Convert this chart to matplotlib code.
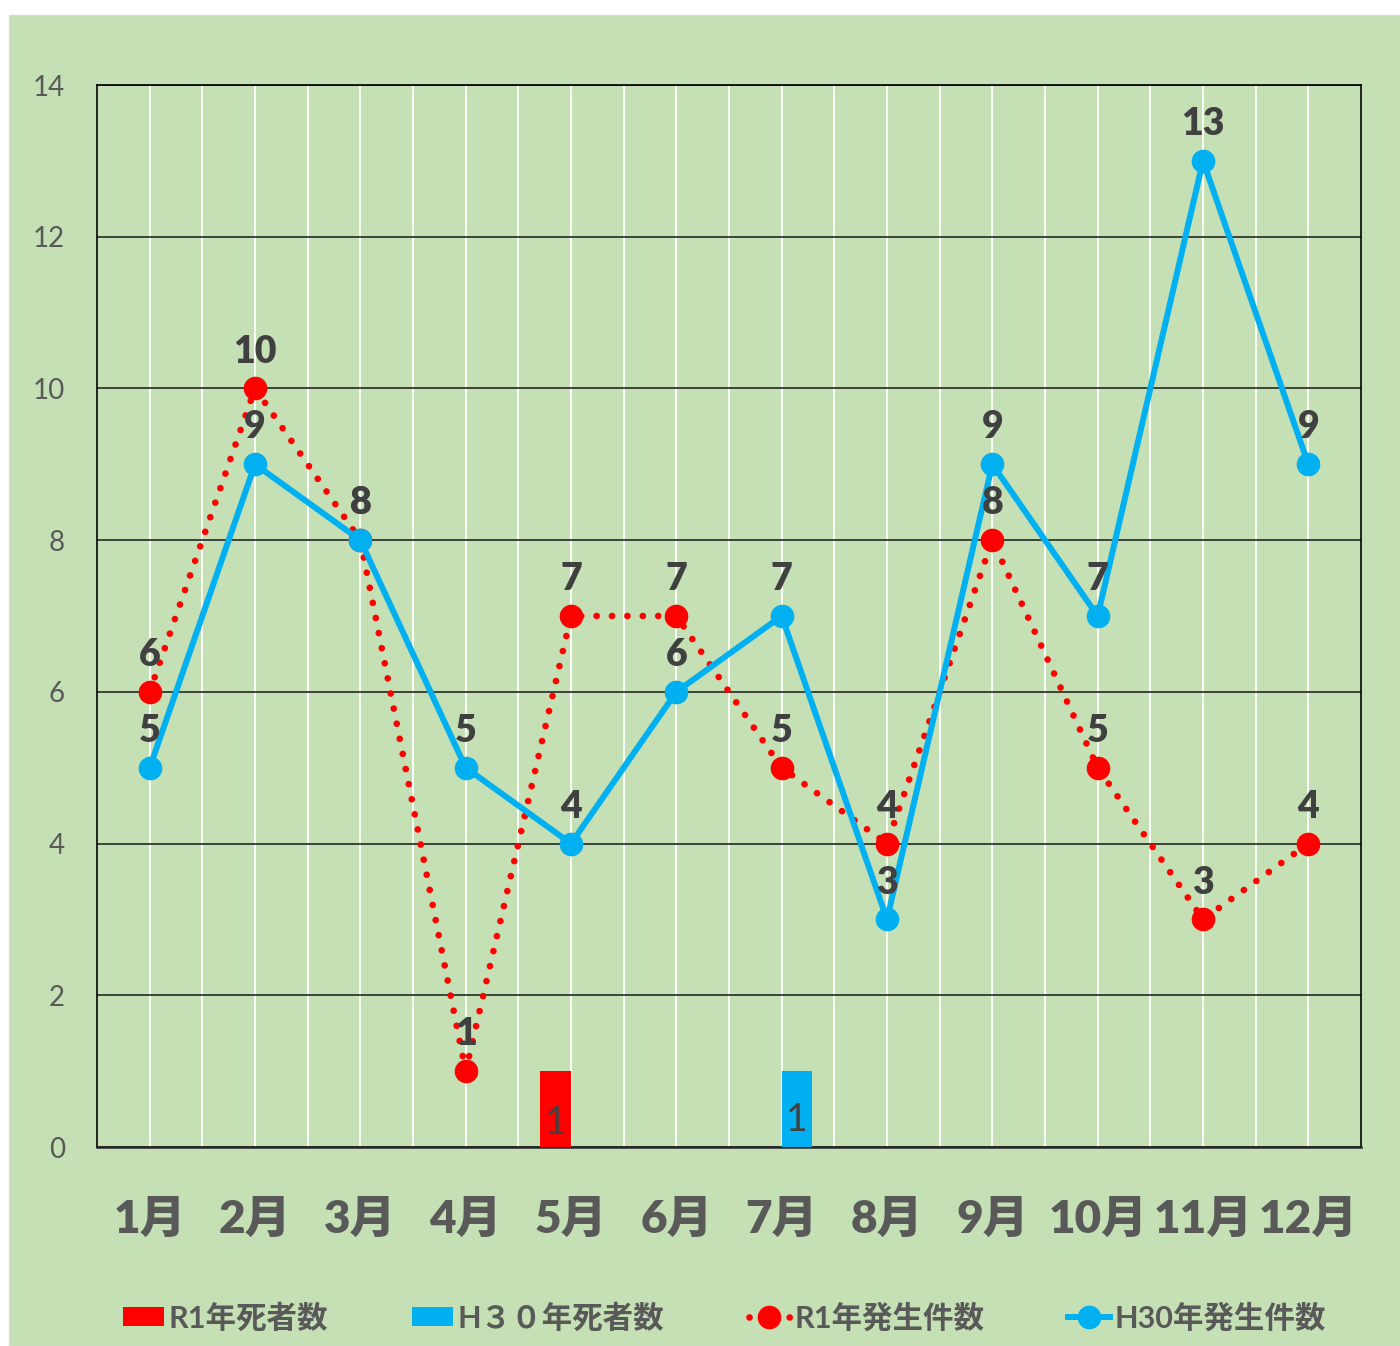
import numpy as np
import matplotlib
matplotlib.use("Agg")
import matplotlib.pyplot as plt
from matplotlib.patches import Rectangle, Patch
from matplotlib.lines import Line2D
from matplotlib.ticker import MultipleLocator

plt.rcParams['font.family'] = ['Lato', 'Noto Sans CJK JP', 'DejaVu Sans']

months = ['1月', '2月', '3月', '4月', '5月', '6月', '7月', '8月', '9月', '10月', '11月', '12月']
r1_cases = [6, 10, 8, 1, 7, 7, 5, 4, 8, 5, 3, 4]
h30_cases = [5, 9, 8, 5, 4, 6, 7, 3, 9, 7, 13, 9]
r1_deaths = [0, 0, 0, 0, 1, 0, 0, 0, 0, 0, 0, 0]
h30_deaths = [0, 0, 0, 0, 0, 0, 1, 0, 0, 0, 0, 0]
legend_labels = ['R1年死者数', 'H３０年死者数', 'R1年発生件数', 'H30年発生件数']

GREEN = '#C5E0B4'
RED = '#FF0000'
BLUE = '#00B0F0'
LABEL = '#404040'
TICK = '#595959'

fig = plt.figure(figsize=(14, 13.46), dpi=100)
fig.patch.set_facecolor('white')
fig.patches.append(Rectangle((9 / 1400, 0), 1 - 9 / 1400, 1 - 15 / 1346,
                             transform=fig.transFigure, facecolor=GREEN,
                             edgecolor='#D9D9D9', lw=1.0, zorder=-5))

ax = fig.add_axes([97 / 1400, 1 - 1147 / 1346, (1361 - 97) / 1400, (1147 - 85) / 1346])
ax.set_facecolor(GREEN)

x = np.arange(len(months))
bw = 0.29

ax.bar(x - bw / 2, r1_deaths, width=bw, color=RED, zorder=3)
ax.bar(x + bw / 2, h30_deaths, width=bw, color=BLUE, zorder=3)

for xi, v in zip(x, r1_deaths):
    if v:
        ax.text(xi - bw / 2, v * 0.32, str(v), ha='center', va='center',
                fontsize=27, color=LABEL, zorder=6)
for xi, v in zip(x, h30_deaths):
    if v:
        ax.text(xi + bw / 2, v * 0.36, str(v), ha='center', va='center',
                fontsize=27, color=LABEL, zorder=6)

ax.plot(x, r1_cases, color=RED, lw=4.8, linestyle=(0, (0.01, 2.3)),
        dash_capstyle='round', marker='o', markersize=16, zorder=4)
ax.plot(x, h30_cases, color=BLUE, lw=4.3, marker='o', markersize=16,
        solid_capstyle='round', zorder=5)

for xi, v in zip(x, r1_cases):
    ax.annotate(str(v), (xi, v), xytext=(0, 26.5), textcoords='offset points',
                ha='center', va='center', fontsize=27, fontweight='heavy',
                color=LABEL, zorder=7)
for xi, v in zip(x, h30_cases):
    ax.annotate(str(v), (xi, v), xytext=(0, 26.5), textcoords='offset points',
                ha='center', va='center', fontsize=27, fontweight='heavy',
                color=LABEL, zorder=7)

ax.set_xlim(-0.5, len(months) - 0.5)
ax.set_ylim(0, 14)
ax.set_yticks(np.arange(0, 15, 2))
ax.set_xticks(x)
ax.set_xticklabels(months, fontsize=33, fontweight='heavy', color=TICK)
ax.xaxis.set_minor_locator(MultipleLocator(0.5))
ax.tick_params(axis='x', which='both', length=0, pad=37)
ax.tick_params(axis='y', length=0, pad=23, labelsize=20, labelcolor=TICK)

ax.grid(axis='y', color='#262626', lw=1.2, zorder=1)
ax.grid(axis='x', which='both', color='white', lw=1.3, zorder=1)
ax.set_axisbelow(True)

for s in ['left', 'top', 'right']:
    ax.spines[s].set_color('black')
    ax.spines[s].set_linewidth(1.2)
ax.spines['bottom'].set_color('#262626')
ax.spines['bottom'].set_linewidth(1.8)

handles = [
    Patch(facecolor=RED, edgecolor='none'),
    Patch(facecolor=BLUE, edgecolor='none'),
    Line2D([], [], color=RED, lw=4.8, linestyle=(0, (0.01, 2.0)),
           dash_capstyle='round', marker='o', markersize=16),
    Line2D([], [], color=BLUE, lw=4.3, marker='o', markersize=16),
]
leg = fig.legend(handles, legend_labels, loc='center left',
                 bbox_to_anchor=(0.068, 0.021), ncol=4, frameon=False,
                 prop={'size': 22, 'weight': 'bold'},
                 handlelength=1.35, handleheight=0.6, handletextpad=0.15,
                 columnspacing=2.75)
for t in leg.get_texts():
    t.set_color(TICK)

fig.savefig('out.png', dpi=100, facecolor=fig.get_facecolor())
